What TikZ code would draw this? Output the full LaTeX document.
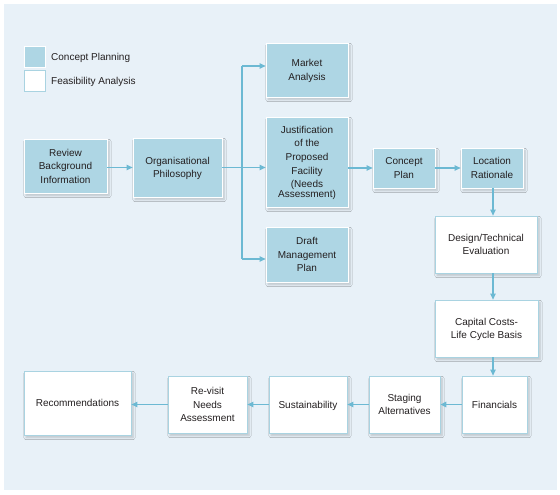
\documentclass[tikz,border=0pt]{standalone}
\usepackage{fontspec}
\setmainfont{Liberation Sans}
\usetikzlibrary{arrows.meta,shadows.blur}
\definecolor{panelbg}{HTML}{E8F1F8}
\definecolor{planfill}{HTML}{AED6E4}
\definecolor{lineblue}{HTML}{6CB9D3}
\definecolor{edgeblue}{HTML}{A9D3E1}
\definecolor{txt}{HTML}{231F20}
\begin{document}
\begin{tikzpicture}[x=1pt,y=-1pt,
	font=\fontsize{10}{13.6}\selectfont, text=txt,
	sz/.style 2 args={minimum width=#1, minimum height=#2},
	box/.style={align=center, inner sep=0pt, line width=0.8pt, text depth=0pt,
		blur shadow={shadow xshift=2pt, shadow yshift=-2.5pt, shadow blur steps=6, shadow opacity=20}},
	plan/.style={box, fill=planfill, draw=white},
	feas/.style={box, fill=white, draw=edgeblue},
	arr/.style={draw=lineblue, line width=1.1pt, -{Triangle[length=6pt,width=5.5pt]}}]
	\useasboundingbox (0,0) rectangle (560,495);
	\fill[panelbg] (4,4) rectangle (557,490);
	% legend
	\node[fill=planfill, draw=white, line width=0.8pt, sz={21}{21}] (lgc) at (34.5,56.5) {};
	\node[fill=white, draw=edgeblue, line width=0.8pt, sz={21}{21}] (lgf) at (34.5,80.5) {};
	\node[anchor=west, inner sep=0pt] (lgctext) at (51,57.8) {Concept Planning};
	\node[anchor=west, inner sep=0pt] (lgftext) at (51,81.8) {Feasibility Analysis};
	% concept planning
	\node[plan, sz={83}{54}] (review) at (65.5,166) {Review\\Background\\Information};
	\node[plan, sz={89}{59}] (philo) at (177.5,167.5) {Organisational\\Philosophy};
	\node[plan, sz={82}{54}] (market) at (307,70) {Market\\Analysis};
	\node[plan, sz={82}{90}] (justif) at (307,162) {Justification\\of the\\Proposed\\Facility\\(Needs\\[-3.5pt]Assessment)};
	\node[plan, sz={82}{55}] (draft) at (307,254.5) {Draft\\Management\\Plan};
	\node[plan, sz={62}{40}] (concept) at (404,168) {Concept\\Plan};
	\node[plan, sz={62}{40}] (location) at (492,168) {Location\\Rationale};
	% feasibility analysis
	\node[feas, sz={102}{57}] (design) at (486,244.5) {Design/Technical\\Evaluation};
	\node[feas, sz={103}{57}] (capital) at (486.5,328.5) {Capital Costs-\\Life Cycle Basis};
	\node[feas, sz={65}{57}] (financials) at (494.5,404.5) {Financials};
	\node[feas, sz={71}{57}] (staging) at (404.5,404.5) {Staging\\Alternatives};
	\node[feas, sz={78}{57}] (sustain) at (308,404.5) {Sustainability};
	\node[feas, sz={79}{57}] (revisit) at (207.5,404.5) {Re-visit\\Needs\\Assessment};
	\node[feas, sz={107}{64}] (recom) at (77.5,403) {Recommendations};
	% connectors
	\coordinate (jtop) at (242,66);
	\coordinate (jbot) at (242,259);
	\draw[arr] (review.east |- philo) -- (philo.west);
	\draw[lineblue, line width=1.1pt] (jtop) -- (jbot);
	\draw[arr] (jtop) -- (jtop -| market.west);
	\draw[arr] (jbot) -- (jbot -| draft.west);
	\draw[arr] (philo.east) -- (philo.east -| justif.west);
	\draw[arr] (justif.east |- concept) -- (concept.west);
	\draw[arr] (concept) -- (location);
	\draw[arr] ([xshift=1pt]location.south) -- ([xshift=1pt]location.south |- design.north);
	\draw[arr] ([xshift=1pt]location.south |- design.south) -- ([xshift=1pt]location.south |- capital.north);
	\draw[arr] ([xshift=1pt]location.south |- capital.south) -- ([xshift=1pt]location.south |- financials.north);
	\draw[arr, line width=1.8pt] (financials) -- (staging);
	\foreach \a/\b in {staging/sustain,sustain/revisit}
		\draw[arr] (\a) -- (\b);
	\draw[arr] (revisit.west) -- (revisit.west -| recom.east);
\end{tikzpicture}
\end{document}
